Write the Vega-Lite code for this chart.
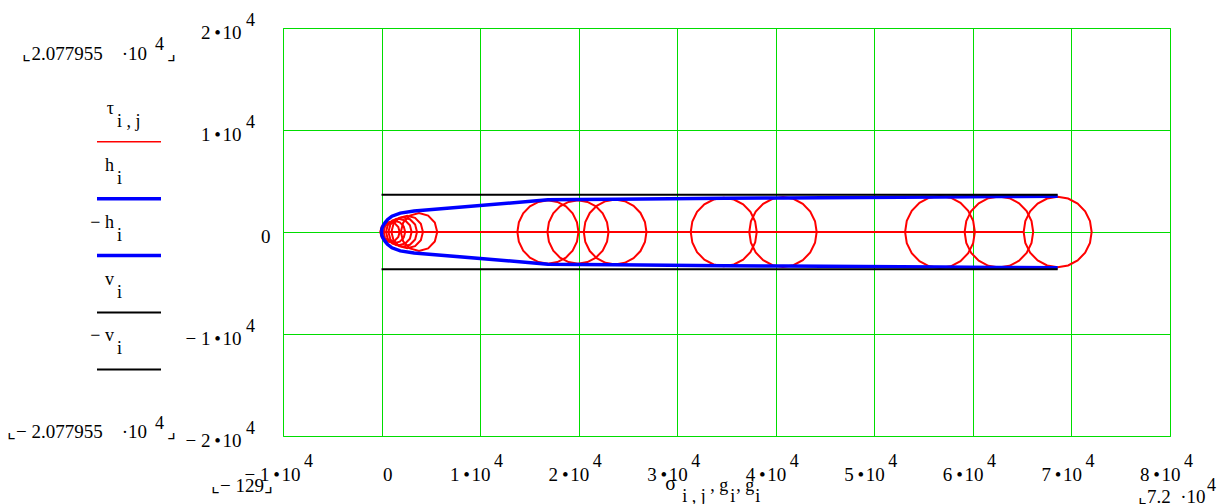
{
  "$schema": "https://vega.github.io/schema/vega-lite/v6.json",
  "autosize": "none",
  "padding": {"left": 283, "top": 28, "right": 54, "bottom": 68},
  "width": 887,
  "height": 408,
  "background": "white",
  "config": {
    "view": {"stroke": "#00dd00", "strokeWidth": 1},
    "font": "Liberation Serif",
    "text": {"font": "Liberation Serif", "fontSize": 19, "color": "#000000", "baseline": "alphabetic"},
    "axis": {"domain": false, "ticks": false, "grid": true, "gridColor": "#00dd00", "gridOpacity": 1, "gridWidth": 1, "labelFont": "Liberation Serif", "labelFontSize": 19, "labelColor": "#000000", "labelFlush": false, "labelOverlap": false, "labelBound": false}
  },
  "datasets": {
    "tau": [
      {"c":"L","k":0,"s":-130,"t":0},{"c":"L","k":1,"s":65150,"t":0},
      {"c":"S1","k":0,"s":1830,"t":0},{"c":"S1","k":1,"s":1699,"t":490},{"c":"S1","k":2,"s":1340,"t":849},{"c":"S1","k":3,"s":850,"t":980},{"c":"S1","k":4,"s":360,"t":849},{"c":"S1","k":5,"s":1,"t":490},{"c":"S1","k":6,"s":-130,"t":0},{"c":"S1","k":7,"s":1,"t":-490},{"c":"S1","k":8,"s":360,"t":-849},{"c":"S1","k":9,"s":850,"t":-980},{"c":"S1","k":10,"s":1340,"t":-849},{"c":"S1","k":11,"s":1699,"t":-490},
      {"c":"S2","k":0,"s":2400,"t":0},{"c":"S2","k":1,"s":2253,"t":550},{"c":"S2","k":2,"s":1850,"t":953},{"c":"S2","k":3,"s":1300,"t":1100},{"c":"S2","k":4,"s":750,"t":953},{"c":"S2","k":5,"s":347,"t":550},{"c":"S2","k":6,"s":200,"t":0},{"c":"S2","k":7,"s":347,"t":-550},{"c":"S2","k":8,"s":750,"t":-953},{"c":"S2","k":9,"s":1300,"t":-1100},{"c":"S2","k":10,"s":1850,"t":-953},{"c":"S2","k":11,"s":2253,"t":-550},
      {"c":"S3","k":0,"s":3050,"t":0},{"c":"S3","k":1,"s":2876,"t":650},{"c":"S3","k":2,"s":2400,"t":1126},{"c":"S3","k":3,"s":1750,"t":1300},{"c":"S3","k":4,"s":1100,"t":1126},{"c":"S3","k":5,"s":624,"t":650},{"c":"S3","k":6,"s":450,"t":0},{"c":"S3","k":7,"s":624,"t":-650},{"c":"S3","k":8,"s":1100,"t":-1126},{"c":"S3","k":9,"s":1750,"t":-1300},{"c":"S3","k":10,"s":2400,"t":-1126},{"c":"S3","k":11,"s":2876,"t":-650},
      {"c":"S4","k":0,"s":3600,"t":0},{"c":"S4","k":1,"s":3406,"t":725},{"c":"S4","k":2,"s":2875,"t":1256},{"c":"S4","k":3,"s":2150,"t":1450},{"c":"S4","k":4,"s":1425,"t":1256},{"c":"S4","k":5,"s":894,"t":725},{"c":"S4","k":6,"s":700,"t":0},{"c":"S4","k":7,"s":894,"t":-725},{"c":"S4","k":8,"s":1425,"t":-1256},{"c":"S4","k":9,"s":2150,"t":-1450},{"c":"S4","k":10,"s":2875,"t":-1256},{"c":"S4","k":11,"s":3406,"t":-725},
      {"c":"S5","k":0,"s":4200,"t":0},{"c":"S5","k":1,"s":3986,"t":800},{"c":"S5","k":2,"s":3400,"t":1386},{"c":"S5","k":3,"s":2600,"t":1600},{"c":"S5","k":4,"s":1800,"t":1386},{"c":"S5","k":5,"s":1214,"t":800},{"c":"S5","k":6,"s":1000,"t":0},{"c":"S5","k":7,"s":1214,"t":-800},{"c":"S5","k":8,"s":1800,"t":-1386},{"c":"S5","k":9,"s":2600,"t":-1600},{"c":"S5","k":10,"s":3400,"t":-1386},{"c":"S5","k":11,"s":3986,"t":-800},
      {"c":"S6","k":0,"s":5650,"t":0},{"c":"S6","k":1,"s":5402,"t":925},{"c":"S6","k":2,"s":4725,"t":1602},{"c":"S6","k":3,"s":3800,"t":1850},{"c":"S6","k":4,"s":2875,"t":1602},{"c":"S6","k":5,"s":2198,"t":925},{"c":"S6","k":6,"s":1950,"t":0},{"c":"S6","k":7,"s":2198,"t":-925},{"c":"S6","k":8,"s":2875,"t":-1602},{"c":"S6","k":9,"s":3800,"t":-1850},{"c":"S6","k":10,"s":4725,"t":-1602},{"c":"S6","k":11,"s":5402,"t":-925},
      {"c":"A","k":0,"s":19980,"t":0},{"c":"A","k":1,"s":19828,"t":958},{"c":"A","k":2,"s":19388,"t":1822},{"c":"A","k":3,"s":18702,"t":2508},{"c":"A","k":4,"s":17838,"t":2948},{"c":"A","k":5,"s":16880,"t":3100},{"c":"A","k":6,"s":15922,"t":2948},{"c":"A","k":7,"s":15058,"t":2508},{"c":"A","k":8,"s":14372,"t":1822},{"c":"A","k":9,"s":13932,"t":958},{"c":"A","k":10,"s":13780,"t":0},{"c":"A","k":11,"s":13932,"t":-958},{"c":"A","k":12,"s":14372,"t":-1822},{"c":"A","k":13,"s":15058,"t":-2508},{"c":"A","k":14,"s":15922,"t":-2948},{"c":"A","k":15,"s":16880,"t":-3100},{"c":"A","k":16,"s":17838,"t":-2948},{"c":"A","k":17,"s":18702,"t":-2508},{"c":"A","k":18,"s":19388,"t":-1822},{"c":"A","k":19,"s":19828,"t":-958},
      {"c":"X","k":0,"s":23030,"t":0},{"c":"X","k":1,"s":22878,"t":958},{"c":"X","k":2,"s":22438,"t":1822},{"c":"X","k":3,"s":21752,"t":2508},{"c":"X","k":4,"s":20888,"t":2948},{"c":"X","k":5,"s":19930,"t":3100},{"c":"X","k":6,"s":18972,"t":2948},{"c":"X","k":7,"s":18108,"t":2508},{"c":"X","k":8,"s":17422,"t":1822},{"c":"X","k":9,"s":16982,"t":958},{"c":"X","k":10,"s":16830,"t":0},{"c":"X","k":11,"s":16982,"t":-958},{"c":"X","k":12,"s":17422,"t":-1822},{"c":"X","k":13,"s":18108,"t":-2508},{"c":"X","k":14,"s":18972,"t":-2948},{"c":"X","k":15,"s":19930,"t":-3100},{"c":"X","k":16,"s":20888,"t":-2948},{"c":"X","k":17,"s":21752,"t":-2508},{"c":"X","k":18,"s":22438,"t":-1822},{"c":"X","k":19,"s":22878,"t":-958},
      {"c":"C","k":0,"s":26880,"t":0},{"c":"C","k":1,"s":26725,"t":983},{"c":"C","k":2,"s":26273,"t":1869},{"c":"C","k":3,"s":25569,"t":2573},{"c":"C","k":4,"s":24683,"t":3025},{"c":"C","k":5,"s":23700,"t":3180},{"c":"C","k":6,"s":22717,"t":3025},{"c":"C","k":7,"s":21831,"t":2573},{"c":"C","k":8,"s":21127,"t":1869},{"c":"C","k":9,"s":20675,"t":983},{"c":"C","k":10,"s":20520,"t":0},{"c":"C","k":11,"s":20675,"t":-983},{"c":"C","k":12,"s":21127,"t":-1869},{"c":"C","k":13,"s":21831,"t":-2573},{"c":"C","k":14,"s":22717,"t":-3025},{"c":"C","k":15,"s":23700,"t":-3180},{"c":"C","k":16,"s":24683,"t":-3025},{"c":"C","k":17,"s":25569,"t":-2573},{"c":"C","k":18,"s":26273,"t":-1869},{"c":"C","k":19,"s":26725,"t":-983},
      {"c":"D","k":0,"s":38070,"t":0},{"c":"D","k":1,"s":37906,"t":1035},{"c":"D","k":2,"s":37430,"t":1969},{"c":"D","k":3,"s":36689,"t":2710},{"c":"D","k":4,"s":35755,"t":3186},{"c":"D","k":5,"s":34720,"t":3350},{"c":"D","k":6,"s":33685,"t":3186},{"c":"D","k":7,"s":32751,"t":2710},{"c":"D","k":8,"s":32010,"t":1969},{"c":"D","k":9,"s":31534,"t":1035},{"c":"D","k":10,"s":31370,"t":0},{"c":"D","k":11,"s":31534,"t":-1035},{"c":"D","k":12,"s":32010,"t":-1969},{"c":"D","k":13,"s":32751,"t":-2710},{"c":"D","k":14,"s":33685,"t":-3186},{"c":"D","k":15,"s":34720,"t":-3350},{"c":"D","k":16,"s":35755,"t":-3186},{"c":"D","k":17,"s":36689,"t":-2710},{"c":"D","k":18,"s":37430,"t":-1969},{"c":"D","k":19,"s":37906,"t":-1035},
      {"c":"E","k":0,"s":44150,"t":0},{"c":"E","k":1,"s":43983,"t":1057},{"c":"E","k":2,"s":43497,"t":2010},{"c":"E","k":3,"s":42740,"t":2767},{"c":"E","k":4,"s":41787,"t":3253},{"c":"E","k":5,"s":40730,"t":3420},{"c":"E","k":6,"s":39673,"t":3253},{"c":"E","k":7,"s":38720,"t":2767},{"c":"E","k":8,"s":37963,"t":2010},{"c":"E","k":9,"s":37477,"t":1057},{"c":"E","k":10,"s":37310,"t":0},{"c":"E","k":11,"s":37477,"t":-1057},{"c":"E","k":12,"s":37963,"t":-2010},{"c":"E","k":13,"s":38720,"t":-2767},{"c":"E","k":14,"s":39673,"t":-3253},{"c":"E","k":15,"s":40730,"t":-3420},{"c":"E","k":16,"s":41787,"t":-3253},{"c":"E","k":17,"s":42740,"t":-2767},{"c":"E","k":18,"s":43497,"t":-2010},{"c":"E","k":19,"s":43983,"t":-1057},
      {"c":"F","k":0,"s":60200,"t":0},{"c":"F","k":1,"s":60027,"t":1094},{"c":"F","k":2,"s":59524,"t":2081},{"c":"F","k":3,"s":58741,"t":2864},{"c":"F","k":4,"s":57754,"t":3367},{"c":"F","k":5,"s":56660,"t":3540},{"c":"F","k":6,"s":55566,"t":3367},{"c":"F","k":7,"s":54579,"t":2864},{"c":"F","k":8,"s":53796,"t":2081},{"c":"F","k":9,"s":53293,"t":1094},{"c":"F","k":10,"s":53120,"t":0},{"c":"F","k":11,"s":53293,"t":-1094},{"c":"F","k":12,"s":53796,"t":-2081},{"c":"F","k":13,"s":54579,"t":-2864},{"c":"F","k":14,"s":55566,"t":-3367},{"c":"F","k":15,"s":56660,"t":-3540},{"c":"F","k":16,"s":57754,"t":-3367},{"c":"F","k":17,"s":58741,"t":-2864},{"c":"F","k":18,"s":59524,"t":-2081},{"c":"F","k":19,"s":60027,"t":-1094},
      {"c":"G","k":0,"s":66120,"t":0},{"c":"G","k":1,"s":65950,"t":1075},{"c":"G","k":2,"s":65455,"t":2046},{"c":"G","k":3,"s":64686,"t":2815},{"c":"G","k":4,"s":63715,"t":3310},{"c":"G","k":5,"s":62640,"t":3480},{"c":"G","k":6,"s":61565,"t":3310},{"c":"G","k":7,"s":60594,"t":2815},{"c":"G","k":8,"s":59825,"t":2046},{"c":"G","k":9,"s":59330,"t":1075},{"c":"G","k":10,"s":59160,"t":0},{"c":"G","k":11,"s":59330,"t":-1075},{"c":"G","k":12,"s":59825,"t":-2046},{"c":"G","k":13,"s":60594,"t":-2815},{"c":"G","k":14,"s":61565,"t":-3310},{"c":"G","k":15,"s":62640,"t":-3480},{"c":"G","k":16,"s":63715,"t":-3310},{"c":"G","k":17,"s":64686,"t":-2815},{"c":"G","k":18,"s":65455,"t":-2046},{"c":"G","k":19,"s":65950,"t":-1075},
      {"c":"H","k":0,"s":72050,"t":0},{"c":"H","k":1,"s":71881,"t":1066},{"c":"H","k":2,"s":71391,"t":2028},{"c":"H","k":3,"s":70628,"t":2791},{"c":"H","k":4,"s":69666,"t":3281},{"c":"H","k":5,"s":68600,"t":3450},{"c":"H","k":6,"s":67534,"t":3281},{"c":"H","k":7,"s":66572,"t":2791},{"c":"H","k":8,"s":65809,"t":2028},{"c":"H","k":9,"s":65319,"t":1066},{"c":"H","k":10,"s":65150,"t":0},{"c":"H","k":11,"s":65319,"t":-1066},{"c":"H","k":12,"s":65809,"t":-2028},{"c":"H","k":13,"s":66572,"t":-2791},{"c":"H","k":14,"s":67534,"t":-3281},{"c":"H","k":15,"s":68600,"t":-3450},{"c":"H","k":16,"s":69666,"t":-3281},{"c":"H","k":17,"s":70628,"t":-2791},{"c":"H","k":18,"s":71391,"t":-2028},{"c":"H","k":19,"s":71881,"t":-1066}
    ],
    "env": [
      {"series":"h","s":0,"y":0},{"series":"h","s":30,"y":300},{"series":"h","s":150,"y":600},{"series":"h","s":350,"y":900},{"series":"h","s":600,"y":1200},{"series":"h","s":1050,"y":1550},{"series":"h","s":1900,"y":1850},{"series":"h","s":3300,"y":2050},{"series":"h","s":16880,"y":3150},{"series":"h","s":19930,"y":3180},{"series":"h","s":23700,"y":3220},{"series":"h","s":34720,"y":3300},{"series":"h","s":40730,"y":3340},{"series":"h","s":56660,"y":3440},{"series":"h","s":62640,"y":3470},{"series":"h","s":68600,"y":3500},
      {"series":"-h","s":0,"y":0},{"series":"-h","s":30,"y":-300},{"series":"-h","s":150,"y":-600},{"series":"-h","s":350,"y":-900},{"series":"-h","s":600,"y":-1200},{"series":"-h","s":1050,"y":-1550},{"series":"-h","s":1900,"y":-1850},{"series":"-h","s":3300,"y":-2050},{"series":"-h","s":16880,"y":-3150},{"series":"-h","s":19930,"y":-3180},{"series":"-h","s":23700,"y":-3220},{"series":"-h","s":34720,"y":-3300},{"series":"-h","s":40730,"y":-3340},{"series":"-h","s":56660,"y":-3440},{"series":"-h","s":62640,"y":-3470},{"series":"-h","s":68600,"y":-3500},
      {"series":"v","s":0,"y":3650},{"series":"v","s":68600,"y":3650},
      {"series":"-v","s":0,"y":-3650},{"series":"-v","s":68600,"y":-3650}
    ],
    "legend": [
      {"series":"tau","idx":0,"name":"τ","sub":"i , j"},
      {"series":"h","idx":1,"name":"h","sub":"i"},
      {"series":"-h","idx":2,"name":"− h","sub":"i"},
      {"series":"v","idx":3,"name":"v","sub":"i"},
      {"series":"-v","idx":4,"name":"− v","sub":"i"}
    ],
    "xexp": [{"v":10000},{"v":20000},{"v":30000},{"v":40000},{"v":50000},{"v":60000},{"v":70000},{"v":80000}],
    "yexp": [{"v":-20000},{"v":-10000},{"v":10000},{"v":20000}],
    "one": [{}]
  },
  "layer": [
    {
      "layer": [
        {
          "data": {"name": "tau"},
          "mark": {"type": "line", "color": "#ff0000", "strokeWidth": 2, "interpolate": "linear-closed"},
          "encoding": {
            "x": {"field": "s", "type": "quantitative", "title": null, "scale": {"domain": [-10000, 80000], "nice": false, "zero": false}, "axis": {"values": [-10000, 0, 10000, 20000, 30000, 40000, 50000, 60000, 70000, 80000], "labelExpr": "datum.value == 0 ? '0' : (datum.value < 0 ? '− ' : '') + format(abs(datum.value) / 10000, 'd') + '\u2009•\u200a10'", "labelBaseline": "alphabetic", "labelPadding": 44, "labelAlign": {"condition": {"test": "datum.value == 0", "value": "left"}, "value": "right"}, "labelOffset": {"condition": [{"test": "datum.value == 0", "value": 1}, {"test": "datum.value < 0", "value": 17}], "value": 10}}},
            "y": {"field": "t", "type": "quantitative", "title": null, "scale": {"domain": [-20000, 20000], "nice": false, "zero": false}, "axis": {"values": [-20000, -10000, 0, 10000, 20000], "labelExpr": "datum.value == 0 ? '0' : (datum.value < 0 ? '− ' : '') + format(abs(datum.value) / 10000, 'd') + '\u2009•\u200a10'", "labelAlign": "right", "labelBaseline": "alphabetic", "labelOffset": 10, "labelPadding": {"condition": {"test": "datum.value == 0", "value": 13}, "value": 42}}},
            "detail": {"field": "c", "type": "nominal"},
            "order": {"field": "k", "type": "quantitative"}
          }
        },
        {
          "data": {"name": "env"},
          "mark": {"type": "line"},
          "encoding": {
            "x": {"field": "s", "type": "quantitative", "title": null},
            "y": {"field": "y", "type": "quantitative", "title": null},
            "color": {"field": "series", "type": "nominal", "legend": null, "scale": {"domain": ["tau", "h", "-h", "v", "-v"], "range": ["#ff0000", "#0000ff", "#0000ff", "#000000", "#000000"]}},
            "strokeWidth": {"field": "series", "type": "nominal", "legend": null, "scale": {"type": "ordinal", "domain": ["tau", "h", "-h", "v", "-v"], "range": [1.5, 3.5, 3.5, 2, 2]}}
          }
        },
        {
          "data": {"name": "xexp"},
          "mark": {"type": "text", "text": "4", "align": "left", "dx": 14, "dy": 31, "fontSize": 18},
          "encoding": {"x": {"field": "v", "type": "quantitative", "title": null}, "y": {"datum": -20000, "title": null}}
        },
        {
          "data": {"name": "one"},
          "mark": {"type": "text", "text": "4", "align": "left", "dx": 21, "dy": 31, "fontSize": 18},
          "encoding": {"x": {"datum": -10000, "title": null}, "y": {"datum": -20000, "title": null}}
        },
        {
          "data": {"name": "yexp"},
          "mark": {"type": "text", "text": "4", "align": "left", "dx": -37, "dy": -2, "fontSize": 18},
          "encoding": {"x": {"datum": -10000, "title": null}, "y": {"field": "v", "type": "quantitative", "title": null}}
        },
        {
          "data": {"name": "one"},
          "mark": {"type": "text", "text": "⌞2.077955\u2003·10", "align": "right", "dx": -136, "dy": 32},
          "encoding": {"x": {"datum": -10000, "title": null}, "y": {"datum": 20000, "title": null}}
        },
        {
          "data": {"name": "one"},
          "mark": {"type": "text", "text": "4", "align": "left", "dx": -128, "dy": 22, "fontSize": 18},
          "encoding": {"x": {"datum": -10000, "title": null}, "y": {"datum": 20000, "title": null}}
        },
        {
          "data": {"name": "one"},
          "mark": {"type": "text", "text": "⌟", "align": "left", "dx": -116, "dy": 32},
          "encoding": {"x": {"datum": -10000, "title": null}, "y": {"datum": 20000, "title": null}}
        },
        {
          "data": {"name": "one"},
          "mark": {"type": "text", "text": "⌞− 2.077955\u2003·10", "align": "right", "dx": -136, "dy": 2},
          "encoding": {"x": {"datum": -10000, "title": null}, "y": {"datum": -20000, "title": null}}
        },
        {
          "data": {"name": "one"},
          "mark": {"type": "text", "text": "4", "align": "left", "dx": -128, "dy": -7, "fontSize": 18},
          "encoding": {"x": {"datum": -10000, "title": null}, "y": {"datum": -20000, "title": null}}
        },
        {
          "data": {"name": "one"},
          "mark": {"type": "text", "text": "⌟", "align": "left", "dx": -116, "dy": 2},
          "encoding": {"x": {"datum": -10000, "title": null}, "y": {"datum": -20000, "title": null}}
        },
        {
          "data": {"name": "one"},
          "mark": {"type": "text", "text": "⌞− 129⌟", "align": "right", "dx": -10, "dy": 56},
          "encoding": {"x": {"datum": -10000, "title": null}, "y": {"datum": -20000, "title": null}}
        },
        {
          "data": {"name": "one"},
          "mark": {"type": "text", "text": "⌞7.2\u2002·10", "align": "left", "dx": -32, "dy": 67},
          "encoding": {"x": {"datum": 80000, "title": null}, "y": {"datum": -20000, "title": null}}
        },
        {
          "data": {"name": "one"},
          "mark": {"type": "text", "text": "4", "align": "left", "dx": 37, "dy": 55, "fontSize": 18},
          "encoding": {"x": {"datum": 80000, "title": null}, "y": {"datum": -20000, "title": null}}
        },
        {
          "data": {"name": "one"},
          "mark": {"type": "text", "text": "σ", "align": "left", "dx": -12, "dy": 54, "fontSize": 20},
          "encoding": {"x": {"datum": 30000, "title": null}, "y": {"datum": -20000, "title": null}}
        },
        {
          "data": {"name": "one"},
          "mark": {"type": "text", "text": "i , j", "align": "left", "dx": 5, "dy": 66, "fontSize": 18},
          "encoding": {"x": {"datum": 30000, "title": null}, "y": {"datum": -20000, "title": null}}
        },
        {
          "data": {"name": "one"},
          "mark": {"type": "text", "text": ", g", "align": "left", "dx": 33, "dy": 55, "fontSize": 18},
          "encoding": {"x": {"datum": 30000, "title": null}, "y": {"datum": -20000, "title": null}}
        },
        {
          "data": {"name": "one"},
          "mark": {"type": "text", "text": "i", "align": "left", "dx": 53, "dy": 66, "fontSize": 18},
          "encoding": {"x": {"datum": 30000, "title": null}, "y": {"datum": -20000, "title": null}}
        },
        {
          "data": {"name": "one"},
          "mark": {"type": "text", "text": ", g", "align": "left", "dx": 59, "dy": 55, "fontSize": 18},
          "encoding": {"x": {"datum": 30000, "title": null}, "y": {"datum": -20000, "title": null}}
        },
        {
          "data": {"name": "one"},
          "mark": {"type": "text", "text": "i", "align": "left", "dx": 78, "dy": 66, "fontSize": 18},
          "encoding": {"x": {"datum": 30000, "title": null}, "y": {"datum": -20000, "title": null}}
        }
      ]
    },
    {
      "data": {"name": "legend"},
      "layer": [
        {
          "mark": {"type": "rule"},
          "encoding": {
            "x": {"datum": -28873, "title": null},
            "x2": {"datum": -22379},
            "y": {"field": "idx", "type": "quantitative", "axis": null, "scale": {"domain": [-2, 5.17], "reverse": true, "nice": false, "zero": false}},
            "color": {"field": "series", "type": "nominal", "legend": null, "scale": {"domain": ["tau", "h", "-h", "v", "-v"], "range": ["#ff0000", "#0000ff", "#0000ff", "#000000", "#000000"]}},
            "strokeWidth": {"field": "series", "type": "nominal", "legend": null, "scale": {"type": "ordinal", "domain": ["tau", "h", "-h", "v", "-v"], "range": [1.5, 3.5, 3.5, 2, 2]}}
          }
        },
        {
          "mark": {"type": "text", "align": "right", "dy": -28, "fontSize": 18},
          "encoding": {
            "x": {"datum": -27148, "title": null},
            "y": {"field": "idx", "type": "quantitative", "axis": null},
            "text": {"field": "name"}
          }
        },
        {
          "mark": {"type": "text", "align": "left", "dy": -15, "fontSize": 18},
          "encoding": {
            "x": {"datum": -26843, "title": null},
            "y": {"field": "idx", "type": "quantitative", "axis": null},
            "text": {"field": "sub"}
          }
        }
      ]
    }
  ],
  "resolve": {"scale": {"y": "independent"}}
}
